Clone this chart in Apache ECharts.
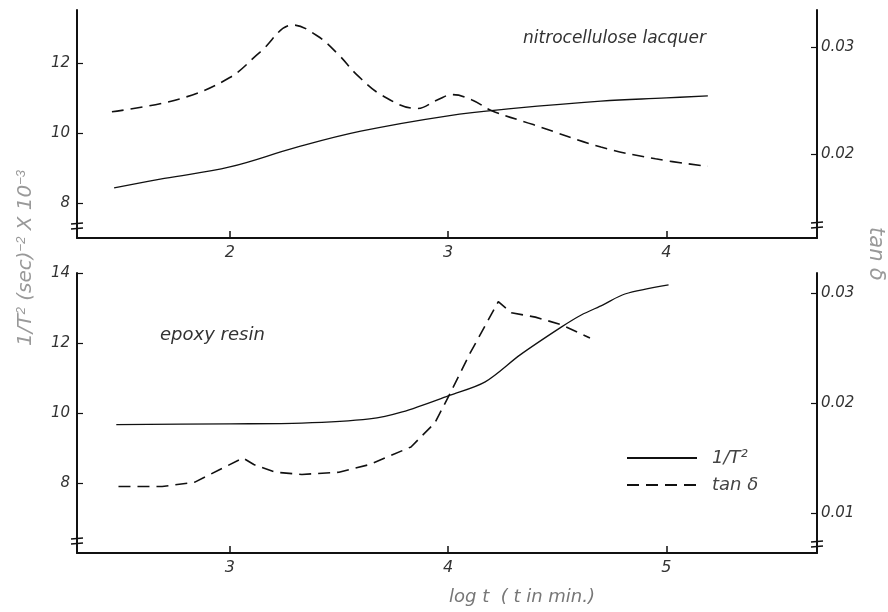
<!DOCTYPE html>
<html>
<head>
<meta charset="utf-8">
<script src="https://cdn.jsdelivr.net/npm/echarts@6/dist/echarts.min.js"></script>
<style>
  html, body { margin: 0; padding: 0; background: #fff; }
  #main { width: 888px; height: 612px; }
</style>
</head>
<body>
<div id="main"></div>
<script>
// log t values, [log t, value]
// nitrocellulose lacquer (top panel)
var nitro_inv_t2 = [
  [1.47, 8.43], [1.70, 8.70], [2.00, 9.03], [2.30, 9.58], [2.60, 10.05],
  [3.00, 10.49], [3.30, 10.70], [3.70, 10.91], [4.00, 11.00], [4.19, 11.06]
];
var nitro_tan = [
  [1.46, 0.0240], [1.77, 0.0252], [2.00, 0.0272], [2.14, 0.0296], [2.29, 0.0321],
  [2.40, 0.0311], [2.50, 0.0293], [2.58, 0.0275], [2.70, 0.0255], [2.86, 0.0243],
  [2.95, 0.0251], [3.02, 0.0256], [3.11, 0.0251], [3.20, 0.0241], [3.39, 0.0228],
  [3.70, 0.0207], [3.95, 0.0196], [4.19, 0.0189]
];
// epoxy resin (bottom panel)
var epoxy_inv_t2 = [
  [2.48, 9.67], [3.00, 9.69], [3.33, 9.71], [3.64, 9.83], [3.79, 10.03],
  [4.01, 10.51], [4.17, 10.89], [4.33, 11.66], [4.52, 12.46], [4.61, 12.80],
  [4.71, 13.09], [4.81, 13.40], [5.01, 13.66]
];
var epoxy_tan = [
  [2.49, 0.0124], [2.69, 0.0124], [2.84, 0.0128], [2.95, 0.0139], [3.06, 0.0150],
  [3.11, 0.0144], [3.21, 0.0137], [3.33, 0.0135], [3.50, 0.0137], [3.64, 0.0144],
  [3.83, 0.0160], [3.94, 0.0182], [4.01, 0.0209], [4.10, 0.0245], [4.23, 0.0292],
  [4.29, 0.0282], [4.40, 0.0278], [4.52, 0.0271], [4.65, 0.0259]
];

// tick labels
var top_x_ticks = [2, 3, 4];
var bottom_x_ticks = [3, 4, 5];
var top_left_ticks = [8, 10, 12];
var top_right_ticks = [0.02, 0.03];
var bottom_left_ticks = [8, 10, 12, 14];
var bottom_right_ticks = [0.01, 0.02, 0.03];

var FONT = 'DejaVu Sans';
var axis_line = { show: true, onZero: false, lineStyle: { color: '#111', width: 2 } };

function label_style(extra) {
  var s = { color: '#333', fontFamily: FONT, fontStyle: 'italic', fontSize: 15 };
  for (var k in extra) s[k] = extra[k];
  return s;
}

function x_axis(grid, min, max, ticks) {
  return {
    type: 'value', gridIndex: grid, min: min, max: max,
    axisLine: axis_line,
    axisTick: { show: true, inside: true, length: 7, customValues: ticks, lineStyle: { color: '#111', width: 1.5 } },
    axisLabel: label_style({ customValues: ticks, margin: 7, fontSize: 16 }),
    splitLine: { show: false }
  };
}

function y_axis(grid, pos, min, max, ticks, fmt) {
  return {
    type: 'value', gridIndex: grid, position: pos, min: min, max: max,
    axisLine: axis_line,
    axisTick: { show: true, inside: true, length: 6, customValues: ticks, lineStyle: { color: '#111', width: 1.2 } },
    axisLabel: label_style({ customValues: ticks, margin: pos == 'left' ? 7 : 4, formatter: fmt }),
    splitLine: { show: false }
  };
}

function fmt_int(v) { return String(Math.round(v)); }
function fmt_tan(v) { return v.toFixed(2); }

var solid = { color: '#111', width: 1.3, type: 'solid' };
var dashed = { color: '#111', width: 1.6, type: [12, 7] };

// small axis-break marks near the bottom of each vertical axis
function brk(x, y) {
  return {
    type: 'group', x: x, y: y,
    children: [
      { type: 'rect', shape: { x: -6, y: -2, width: 12, height: 5 }, style: { fill: '#fff' } },
      { type: 'line', shape: { x1: -6, y1: -2, x2: 6, y2: -3 }, style: { stroke: '#111', lineWidth: 1.5 } },
      { type: 'line', shape: { x1: -6, y1: 3, x2: 6, y2: 2 }, style: { stroke: '#111', lineWidth: 1.5 } }
    ]
  };
}

var option = {
  backgroundColor: '#fff',
  animation: false,
  grid: [
    { left: 77, right: 71, top: 10, bottom: 374 },
    { left: 77, right: 71, top: 273, bottom: 59 }
  ],
  xAxis: [
    x_axis(0, 1.3, 4.69, top_x_ticks),
    x_axis(1, 2.3, 5.69, bottom_x_ticks)
  ],
  yAxis: [
    y_axis(0, 'left', 7, 13.51, top_left_ticks, fmt_int),
    y_axis(0, 'right', 0.0122, 0.03351, top_right_ticks, fmt_tan),
    y_axis(1, 'left', 6, 14, bottom_left_ticks, fmt_int),
    y_axis(1, 'right', 0.00636, 0.03181, bottom_right_ticks, fmt_tan)
  ],
  legend: {
    data: ['1/T²', 'tan δ'],
    orient: 'vertical',
    left: 621, top: 444,
    itemWidth: 70, itemHeight: 10, itemGap: 9,
    selectedMode: false,
    itemStyle: { opacity: 0 },
    textStyle: { color: '#444', fontFamily: FONT, fontStyle: 'italic', fontSize: 18, padding: [0, 0, 0, 10] }
  },
  series: [
    { name: '1/T²', type: 'line', xAxisIndex: 0, yAxisIndex: 0, data: nitro_inv_t2,
      smooth: 0.4, showSymbol: false, symbol: 'none', lineStyle: solid, itemStyle: { color: '#111' } },
    { name: 'tan δ', type: 'line', xAxisIndex: 0, yAxisIndex: 1, data: nitro_tan,
      smooth: 0.4, showSymbol: false, symbol: 'none', lineStyle: dashed, itemStyle: { color: '#111' } },
    { name: '1/T²', type: 'line', xAxisIndex: 1, yAxisIndex: 2, data: epoxy_inv_t2,
      smooth: 0.3, showSymbol: false, symbol: 'none', lineStyle: solid, itemStyle: { color: '#111' } },
    { name: 'tan δ', type: 'line', xAxisIndex: 1, yAxisIndex: 3, data: epoxy_tan,
      smooth: false, showSymbol: false, symbol: 'none', lineStyle: dashed, itemStyle: { color: '#111' } }
  ],
  graphic: [
    { type: 'text', left: 523, top: 30,
      style: { text: 'nitrocellulose lacquer', fill: '#333', font: 'italic 17px "DejaVu Sans"' } },
    { type: 'text', left: 160, top: 326,
      style: { text: 'epoxy resin', fill: '#333', font: 'italic 18px "DejaVu Sans"' } },
    // left axis name, reads bottom to top
    { type: 'text', x: 26, y: 258, rotation: Math.PI / 2,
      style: {
        text: '1/T{sup|2} (sec){sup|−2} X 10{sup|−3}',
        fill: '#999', font: 'italic 20px "DejaVu Sans"', align: 'center', verticalAlign: 'middle',
        rich: { sup: { fontSize: 13, verticalAlign: 'top', fill: '#999', fontStyle: 'italic', padding: [0, 0, 10, 0] } }
      } },
    // right axis name, reads top to bottom
    { type: 'text', x: 875, y: 254, rotation: -Math.PI / 2,
      style: { text: 'tan δ', fill: '#999', font: 'italic 21px "DejaVu Sans"', align: 'center', verticalAlign: 'middle' } },
    { type: 'text', x: 522, y: 597,
      style: { text: 'log t  ( t in min.)', fill: '#777', font: 'italic 18px "DejaVu Sans"', align: 'center', verticalAlign: 'middle' } },
    brk(77, 226), brk(817, 225), brk(77, 541), brk(817, 544)
  ]
};

var chart = echarts.init(document.getElementById('main'));
chart.setOption(option);
</script>
</body>
</html>
